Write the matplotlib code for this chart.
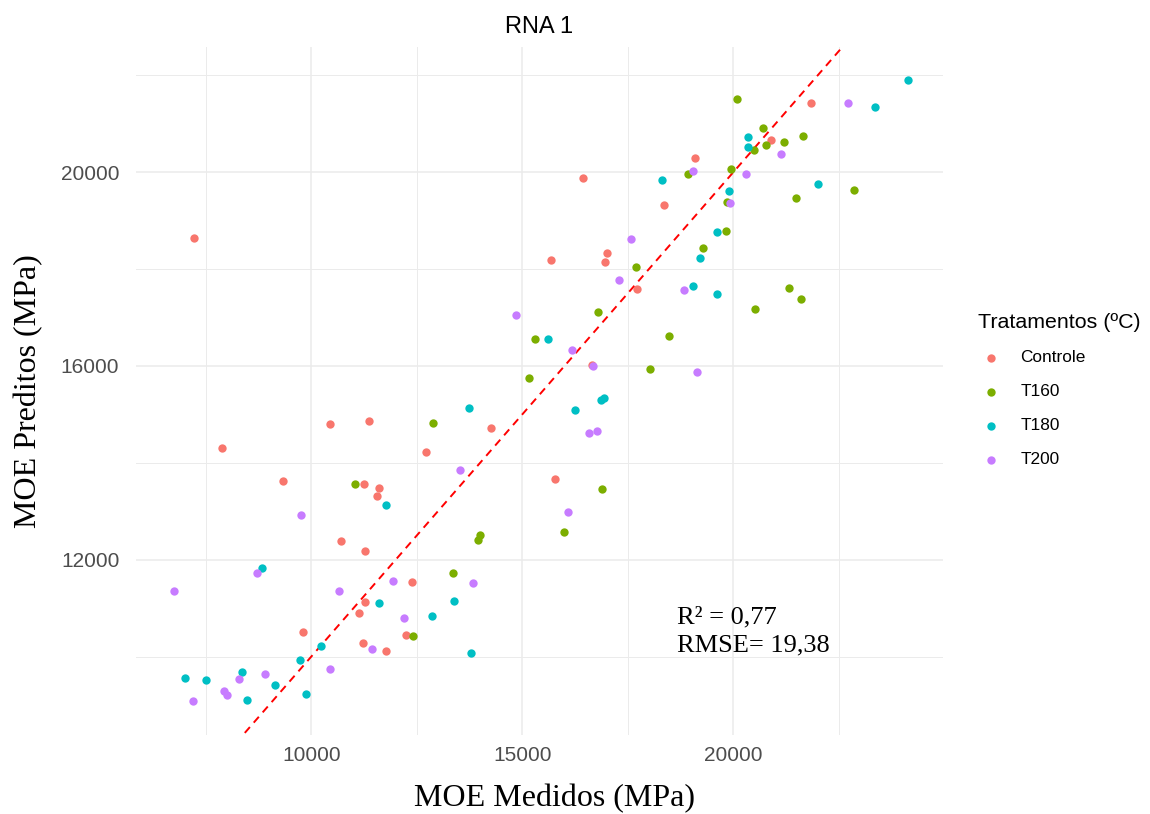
"""
Scatter plot of measured vs predicted MOE (RNA 1), ggplot minimal style.
"""

import matplotlib

matplotlib.use("Agg")
import matplotlib.pyplot as plt
from matplotlib.ticker import MultipleLocator

CONTROLE_X = [7215, 16430, 10435, 11375, 14250, 7875, 12710, 9335, 11250, 11610,
              11565, 10705, 11275, 12385, 11275, 11140, 9805, 12250, 11225, 11765,
              21835, 20895, 19095, 18360, 15675, 17010, 16960, 17710, 16650, 15785]
CONTROLE_Y = [18640, 19880, 14810, 14865, 14715, 14300, 14225, 13625, 13570, 13480,
              13320, 12385, 12180, 11535, 11135, 10895, 10515, 10445, 10275, 10110,
              21430, 20665, 20295, 19320, 18195, 18325, 18155, 17595, 16020, 13665]

T160_X = [15300, 15150, 12890, 11035, 13945, 14000, 13350, 12410, 20095, 20715,
          21210, 21660, 20490, 20785, 18935, 19945, 22855, 21495, 19850, 19820,
          19275, 17690, 21330, 21605, 20510, 16790, 18480, 18020, 16895, 15995]
T160_Y = [16565, 15745, 14825, 13570, 12405, 12505, 11720, 10425, 21520, 20910,
          20630, 20755, 20465, 20560, 19970, 20070, 19635, 19470, 19395, 18795,
          18435, 18045, 17615, 17390, 17185, 17110, 16620, 15930, 13460, 12580]

T180_X = [15600, 13740, 11780, 8825, 11610, 12855, 13375, 10230, 13780, 9725,
          7015, 7500, 8350, 9140, 8475, 9875, 24140, 23350, 20355, 20355,
          18320, 22015, 19905, 19620, 19210, 19045, 19620, 16865, 16930, 16255]
T180_Y = [16565, 15140, 13125, 11830, 11100, 10840, 11140, 10225, 10070, 9925,
          9565, 9520, 9675, 9415, 9095, 9235, 21900, 21340, 20725, 20520,
          19840, 19750, 19615, 18775, 18230, 17650, 17485, 15300, 15345, 15085]

T200_X = [14850, 13525, 9750, 8715, 6740, 13830, 11935, 10650, 12190, 11445,
          10450, 8280, 8905, 7930, 8000, 7190, 22720, 21130, 19045, 20295,
          19925, 17570, 17285, 18825, 16185, 16680, 19135, 16590, 16770, 16085]
T200_Y = [17050, 13855, 12915, 11720, 11350, 11515, 11565, 11350, 10805, 10160,
          9750, 9545, 9640, 9295, 9205, 9075, 21430, 20385, 20035, 19970,
          19365, 18625, 17770, 17565, 16325, 16010, 15875, 14625, 14650, 12990]

GROUPS = {
    "Controle": (CONTROLE_X, CONTROLE_Y, "#F8766D"),
    "T160": (T160_X, T160_Y, "#7CAE00"),
    "T180": (T180_X, T180_Y, "#00BFC4"),
    "T200": (T200_X, T200_Y, "#C77CFF"),
}

X_LIMITS = (5845, 24971)
Y_LIMITS = (8380, 22587)
STATS_TEXT = "R² = 0,77\nRMSE= 19,38"

SERIF = ["Liberation Serif", "DejaVu Serif"]
SANS = ["Liberation Sans", "DejaVu Sans"]

fig = plt.figure(figsize=(11.5, 8.14), dpi=100)
ax = fig.add_axes([136 / 1150, 1 - 735 / 814, (943 - 136) / 1150, (735 - 47) / 814])

for spine in ax.spines.values():
    spine.set_visible(False)

ax.set_xlim(*X_LIMITS)
ax.set_ylim(*Y_LIMITS)
ax.xaxis.set_major_locator(MultipleLocator(5000))
ax.xaxis.set_minor_locator(MultipleLocator(2500))
ax.yaxis.set_major_locator(MultipleLocator(4000))
ax.yaxis.set_minor_locator(MultipleLocator(2000))
ax.grid(which="major", color="#EBEBEB", linewidth=1.1)
ax.grid(which="minor", color="#EBEBEB", linewidth=0.7)
ax.set_axisbelow(True)
ax.tick_params(which="both", length=0)
ax.tick_params(axis="both", which="major", labelsize=15, labelcolor="#4D4D4D")
ax.tick_params(axis="x", pad=8)
ax.tick_params(axis="y", pad=12)
for lbl in ax.get_xticklabels() + ax.get_yticklabels():
    lbl.set_family(SANS)

ax.plot(X_LIMITS, X_LIMITS, color="red", linestyle=(0, (4, 3)), linewidth=1.4, zorder=2)

for label, (xs, ys, colour) in GROUPS.items():
    ax.scatter(xs, ys, color=colour, s=36, linewidths=0, label=label, zorder=3)

ax.text(18660, 11040, STATS_TEXT, family=SERIF, fontsize=19,
        va="top", ha="left", linespacing=1.35)

ax.set_xlabel("MOE Medidos (MPa)", family=SERIF, fontsize=23)
ax.xaxis.set_label_coords(0.519, -0.071)
ax.set_ylabel("MOE Preditos (MPa)", family=SERIF, fontsize=23, labelpad=13)
ax.set_title("RNA 1", family=SANS, fontsize=17, pad=10)

legend = fig.legend(
    loc="upper left",
    bbox_to_anchor=(962 / 1150, 1 - 297 / 814),
    frameon=False,
    title="Tratamentos (ºC)",
    title_fontproperties={"family": SANS, "size": 15.4},
    prop={"family": SANS, "size": 12.4},
    labelspacing=1.1,
    handletextpad=0.9,
    handlelength=1.6,
    markerscale=1.0,
)
legend._legend_box.align = "left"

fig.savefig("out.png", dpi=100)
